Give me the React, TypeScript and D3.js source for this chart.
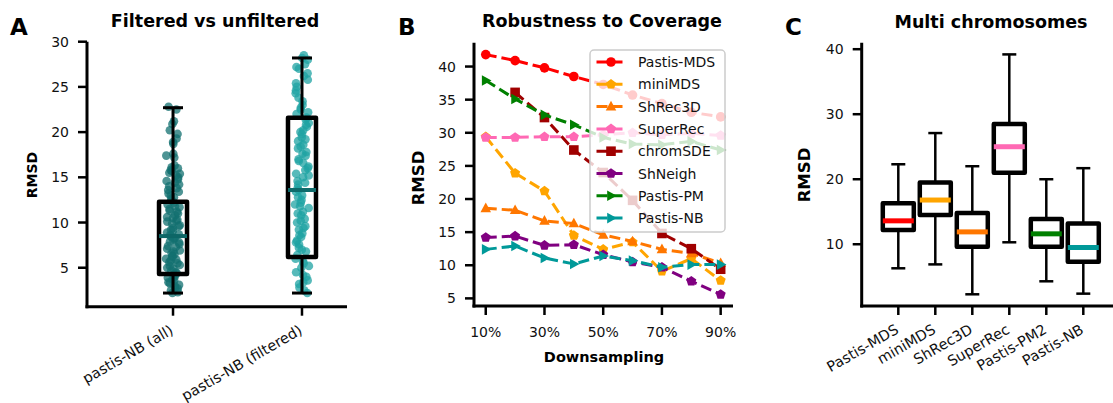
import React from 'react';
import * as d3 from 'd3';

const W = 1113;
const H = 403;
const FONT = '"DejaVu Sans", sans-serif';

// ---- Panel A: filtered vs unfiltered ----
const groupsA = ['pastis-NB (all)', 'pastis-NB (filtered)'];
const rmsdAll = [
  22.8, 22.5, 21.2, 20.9, 20.2, 19.8, 19.3, 18.9, 18.7, 17.6, 17.4, 17.2, 16.3, 16.1, 16.0, 15.8, 15.7, 15.5, 15.4, 15.2,
  15.0, 14.8, 14.6, 14.4, 14.2, 14.0, 13.8, 13.6, 13.4, 13.2, 13.0, 12.8, 12.6, 12.4,
  12.2, 12.0, 11.8, 11.7, 11.5, 11.3, 11.2, 11.0, 10.8, 10.6, 10.5, 10.3, 10.2, 10.1, 9.9, 9.7, 9.6, 9.4, 9.2, 9.1,
  8.9, 8.7, 8.6, 8.5, 8.3, 8.2, 8.1, 7.9, 7.8, 7.6, 7.4, 7.3, 7.1, 6.9, 6.8, 6.6, 6.5, 6.3, 6.2, 6.0, 5.9, 5.8,
  5.6, 5.5, 5.3, 5.2, 5.0, 4.9, 4.7, 4.5, 4.4, 4.2, 4.0, 3.9, 3.7, 3.6, 3.4, 3.3, 3.1, 3.0, 2.8, 2.7, 2.5, 2.3, 2.2,
];
const rmsdFiltered = [
  28.5, 28.2, 28.0, 27.5, 27.2, 27.0, 26.5, 26.2, 25.8, 25.4, 25.0, 24.6, 24.3, 23.8, 23.4, 23.0, 22.7, 22.5, 22.2, 22.0,
  21.6, 21.4, 21.0, 20.8, 20.6, 20.2, 20.0, 19.8, 19.4, 19.2, 19.0, 18.6, 18.4, 18.2, 17.8, 17.6, 17.4, 17.0, 16.8,
  16.6, 16.2, 16.0, 15.8, 15.4, 15.2, 15.0, 14.6, 14.4, 14.2, 13.8, 13.6, 13.4, 13.0, 12.8, 12.5, 12.2, 12.0, 11.8,
  11.6, 11.2, 11.0, 10.8, 10.4, 10.2, 10.0, 9.6, 9.4, 9.2, 8.8, 8.6, 8.4, 8.0, 7.8, 7.6, 7.2, 7.0, 6.8, 6.4,
  6.0, 5.7, 5.5, 5.2, 5.0, 4.5, 4.2, 4.0, 3.6, 3.4, 3.2, 2.8, 2.5, 2.2,
];
const pointsA = [rmsdAll, rmsdFiltered];
// whisker low, q1, median, q3, whisker high
const boxA = [
  [2.2, 4.3, 8.5, 12.3, 22.7],
  [2.2, 6.2, 13.6, 21.6, 28.2],
];
const pointColorA = ['#137070', '#1fa3a3'];
const medianColorA = ['#0d6666', '#0f6b6b'];
const yTicksA = [5, 10, 15, 20, 25, 30];

// ---- Panel B: robustness to coverage ----
const downsampling = [10, 20, 30, 40, 50, 60, 70, 80, 90];
const xTicksB = [10, 30, 50, 70, 90];
const yTicksB = [5, 10, 15, 20, 25, 30, 35, 40];
const methodsB = ['Pastis-MDS', 'miniMDS', 'ShRec3D', 'SuperRec', 'chromSDE', 'ShNeigh', 'Pastis-PM', 'Pastis-NB'];
const colorsB = ['#ff0000', '#ffa500', '#ff7700', '#ff69b4', '#a00000', '#800080', '#008000', '#009999'];
const markersB = ['circle', 'pentagon', 'triangle', 'pentagon', 'square', 'pentagon', 'right', 'right'];
const pastisMDS = [41.8, 40.9, 39.8, 38.5, 37.3, 35.7, 34.4, 33.1, 32.4];
const miniMDS = [29.4, 23.9, 21.2, 14.5, 12.4, 13.5, 9.1, 11.0, 7.7];
const shRec3D = [18.6, 18.3, 16.7, 16.3, 14.6, 13.6, 12.4, 11.8, 10.3];
const superRec = [29.3, 29.3, 29.4, 29.4, 29.7, 30.0, 29.7, 29.9, 29.6];
const chromSDE = [null, 36.1, 32.3, 27.4, 24.0, 19.8, 14.8, 12.5, 9.4];
const shNeigh = [14.2, 14.4, 13.0, 13.1, 11.6, 10.5, 9.7, 7.6, 5.6];
const pastisPM = [37.9, 35.1, 32.7, 31.2, 29.3, 28.3, 28.2, 28.7, 27.4];
const pastisNB = [12.4, 12.9, 11.1, 10.2, 11.4, 10.7, 9.7, 10.1, 10.1];
const seriesB = [pastisMDS, miniMDS, shRec3D, superRec, chromSDE, shNeigh, pastisPM, pastisNB];

// ---- Panel C: multi chromosomes ----
const methodsC = ['Pastis-MDS', 'miniMDS', 'ShRec3D', 'SuperRec', 'Pastis-PM2', 'Pastis-NB'];
const whiskLoC = [6.3, 6.9, 2.3, 10.3, 4.3, 2.4];
const q1C = [12.2, 14.5, 9.6, 21.0, 9.6, 7.3];
const medianC = [13.6, 16.8, 11.9, 25.0, 11.6, 9.5];
const q3C = [16.3, 19.5, 14.8, 28.5, 13.9, 13.2];
const whiskHiC = [22.3, 27.1, 22.0, 39.2, 20.0, 21.7];
const colorsC = ['#ff0000', '#ffa500', '#ff7700', '#ff69b4', '#008000', '#009999'];
const yTicksC = [10, 20, 30, 40];

// deterministic strip-plot jitter in [-1, 1]
function jitter(i: number) {
  const s = Math.sin(i * 12.9898 + 78.233) * 43758.5453;
  return (s - Math.floor(s)) * 2 - 1;
}

function markerPath(kind: string, r: number): string {
  if (kind === 'circle') return d3.symbol(d3.symbolCircle, Math.PI * r * r)() as string;
  if (kind === 'square') return `M${-r},${-r}h${2 * r}v${2 * r}h${-2 * r}Z`;
  let pts: [number, number][] = [];
  if (kind === 'triangle') pts = [[0, -r * 1.2], [r * 1.1, r * 0.8], [-r * 1.1, r * 0.8]];
  else if (kind === 'right') pts = [[r * 1.2, 0], [-r * 0.8, -r * 1.1], [-r * 0.8, r * 1.1]];
  else {
    for (let k = 0; k < 5; k++) {
      const a = -Math.PI / 2 + (k * 2 * Math.PI) / 5;
      pts.push([Math.cos(a) * r * 1.1, Math.sin(a) * r * 1.1]);
    }
  }
  return 'M' + pts.map(p => p.join(',')).join('L') + 'Z';
}

function YAxis({ x, y, ticks, top, bottom }: any) {
  return (
    <g>
      <line x1={x} x2={x} y1={top} y2={bottom + 1.5} stroke="#000" strokeWidth={3} />
      {ticks.map((t: number) => (
        <g key={t}>
          <line x1={x - 9} x2={x} y1={y(t)} y2={y(t)} stroke="#000" strokeWidth={2.5} />
          <text x={x - 18} y={y(t)} dy="0.36em" textAnchor="end" fontSize={14} fill="#111">{t}</text>
        </g>
      ))}
    </g>
  );
}

function RotatedLabels({ positions, labels, y0 }: any) {
  return (
    <g>
      {labels.map((l: string, i: number) => (
        <g key={l}>
          <line x1={positions[i]} x2={positions[i]} y1={y0} y2={y0 + 9} stroke="#000" strokeWidth={2.5} />
          <text transform={`translate(${positions[i] - 4},${y0 + 17}) rotate(-30)`} dy="0.75em" textAnchor="end" fontSize={14.5} fill="#111">{l}</text>
        </g>
      ))}
    </g>
  );
}

function PanelA() {
  const bottom = 306.7;
  const x = d3.scaleLinear().domain([-0.667, 1.349]).range([87, 347]);
  const y = d3.scaleLinear().domain([0.69, 30]).range([bottom, 41.7]);
  const halfBox = 14;
  return (
    <g>
      <text x={10} y={35} fontSize={23} fontWeight="bold">A</text>
      <text x={215} y={27} textAnchor="middle" fontSize={17.5} fontWeight="bold">Filtered vs unfiltered</text>
      <text transform={`translate(37,175) rotate(-90)`} textAnchor="middle" fontSize={14} fontWeight="bold">RMSD</text>
      {pointsA.map((vals, g) => (
        <g key={g}>
          {vals.map((v, i) => (
            <circle key={i} cx={x(g) + jitter(i + g * 200) * 7} cy={y(v)} r={4.3} fill={pointColorA[g]} fillOpacity={0.75} />
          ))}
        </g>
      ))}
      {boxA.map((b, g) => {
        const cx = x(g);
        return (
          <g key={g}>
            <line x1={cx} x2={cx} y1={y(b[0])} y2={y(b[1])} stroke="#000" strokeWidth={3} />
            <line x1={cx} x2={cx} y1={y(b[3])} y2={y(b[4])} stroke="#000" strokeWidth={3} />
            <line x1={cx - 10} x2={cx + 10} y1={y(b[0])} y2={y(b[0])} stroke="#000" strokeWidth={3} />
            <line x1={cx - 10} x2={cx + 10} y1={y(b[4])} y2={y(b[4])} stroke="#000" strokeWidth={3} />
            <rect x={cx - halfBox} y={y(b[3])} width={halfBox * 2} height={y(b[1]) - y(b[3])} fill="none" stroke="#000" strokeWidth={4.5} strokeLinejoin="round" />
            <line x1={cx - halfBox} x2={cx + halfBox} y1={y(b[2])} y2={y(b[2])} stroke={medianColorA[g]} strokeWidth={4} />
          </g>
        );
      })}
      <YAxis x={87} y={y} ticks={yTicksA} top={41.7} bottom={bottom} />
      <line x1={85.5} x2={347} y1={bottom} y2={bottom} stroke="#000" strokeWidth={3} />
      <RotatedLabels positions={[x(0), x(1)]} labels={groupsA} y0={bottom} />
    </g>
  );
}

function PanelB() {
  const left = 474;
  const bottom = 306;
  const x = d3.scaleLinear().domain([6, 94.2]).range([left, 733]);
  const y = d3.scaleLinear().domain([3.85, 43.6]).range([bottom, 42.7]);
  const lineGen = d3.line<any>()
    .defined(d => d[1] != null)
    .x(d => x(d[0]))
    .y(d => y(d[1]));
  const legendX = 590;
  const legendY = 50;
  return (
    <g>
      <text x={398} y={35} fontSize={23} fontWeight="bold">B</text>
      <text x={602} y={27} textAnchor="middle" fontSize={17.5} fontWeight="bold">Robustness to Coverage</text>
      <text transform={`translate(424,178) rotate(-90)`} textAnchor="middle" fontSize={16.5} fontWeight="bold">RMSD</text>
      {seriesB.map((vals, s) => {
        const pts = downsampling.map((d, i) => [d, vals[i]]);
        return (
          <g key={s}>
            <path d={lineGen(pts) as string} fill="none" stroke={colorsB[s]} strokeWidth={3} strokeDasharray="11 5" />
            {pts.filter(p => p[1] != null).map((p, i) => (
              <path key={i} d={markerPath(markersB[s], 4.8)} transform={`translate(${x(p[0] as number)},${y(p[1] as number)})`} fill={colorsB[s]} />
            ))}
          </g>
        );
      })}
      <YAxis x={left} y={y} ticks={yTicksB} top={42.7} bottom={bottom} />
      <line x1={left - 1.5} x2={733} y1={bottom} y2={bottom} stroke="#000" strokeWidth={3} />
      {xTicksB.map(t => (
        <g key={t}>
          <line x1={x(t)} x2={x(t)} y1={bottom} y2={bottom + 9} stroke="#000" strokeWidth={2.5} />
          <text x={x(t)} y={337} textAnchor="middle" fontSize={14} fill="#111">{t}%</text>
        </g>
      ))}
      <text x={604} y={362} textAnchor="middle" fontSize={14.5} fontWeight="bold">Downsampling</text>
      <rect x={legendX} y={legendY} width={135} height={182} rx={4} fill="#fff" fillOpacity={0.8} stroke="#cccccc" strokeWidth={1.5} />
      {methodsB.map((m, s) => {
        const ry = 62 + s * 22.3;
        return (
          <g key={m}>
            <line x1={596.5} x2={625.5} y1={ry} y2={ry} stroke={colorsB[s]} strokeWidth={3} strokeDasharray="11 4" />
            <path d={markerPath(markersB[s], 4.8)} transform={`translate(611,${ry})`} fill={colorsB[s]} />
            <text x={638} y={ry} dy="0.36em" fontSize={14} fill="#111">{m}</text>
          </g>
        );
      })}
    </g>
  );
}

function PanelC() {
  const left = 861.7;
  const bottom = 306;
  const x = d3.scaleLinear().domain([0, 5]).range([898.3, 1083.3]);
  const y = d3.scaleLinear().domain([0.5, 41]).range([bottom, 42.7]);
  const half = 15.5;
  return (
    <g>
      <text x={785} y={35} fontSize={23} fontWeight="bold">C</text>
      <text x={991} y={28} textAnchor="middle" fontSize={17.5} fontWeight="bold">Multi chromosomes</text>
      <text transform={`translate(810,175) rotate(-90)`} textAnchor="middle" fontSize={16.5} fontWeight="bold">RMSD</text>
      {methodsC.map((m, i) => {
        const cx = x(i);
        return (
          <g key={m}>
            <line x1={cx} x2={cx} y1={y(whiskLoC[i])} y2={y(q1C[i])} stroke="#000" strokeWidth={2.5} />
            <line x1={cx} x2={cx} y1={y(q3C[i])} y2={y(whiskHiC[i])} stroke="#000" strokeWidth={2.5} />
            <line x1={cx - 7} x2={cx + 7} y1={y(whiskLoC[i])} y2={y(whiskLoC[i])} stroke="#000" strokeWidth={2.5} />
            <line x1={cx - 7} x2={cx + 7} y1={y(whiskHiC[i])} y2={y(whiskHiC[i])} stroke="#000" strokeWidth={2.5} />
            <rect x={cx - half} y={y(q3C[i])} width={half * 2} height={y(q1C[i]) - y(q3C[i])} fill="none" stroke="#000" strokeWidth={4.5} strokeLinejoin="round" />
            <line x1={cx - half} x2={cx + half} y1={y(medianC[i])} y2={y(medianC[i])} stroke={colorsC[i]} strokeWidth={5} />
          </g>
        );
      })}
      <YAxis x={left} y={y} ticks={yTicksC} top={42.7} bottom={bottom} />
      <line x1={left - 1.5} x2={W} y1={bottom} y2={bottom} stroke="#000" strokeWidth={3} />
      <RotatedLabels positions={methodsC.map((_, i) => x(i))} labels={methodsC} y0={bottom} />
    </g>
  );
}

export default function App() {
  return (
    <svg width={W} height={H} style={{ position: 'absolute', left: 0, top: 0, background: '#fff' }} fontFamily={FONT}>
      <PanelA />
      <PanelB />
      <PanelC />
    </svg>
  );
}
